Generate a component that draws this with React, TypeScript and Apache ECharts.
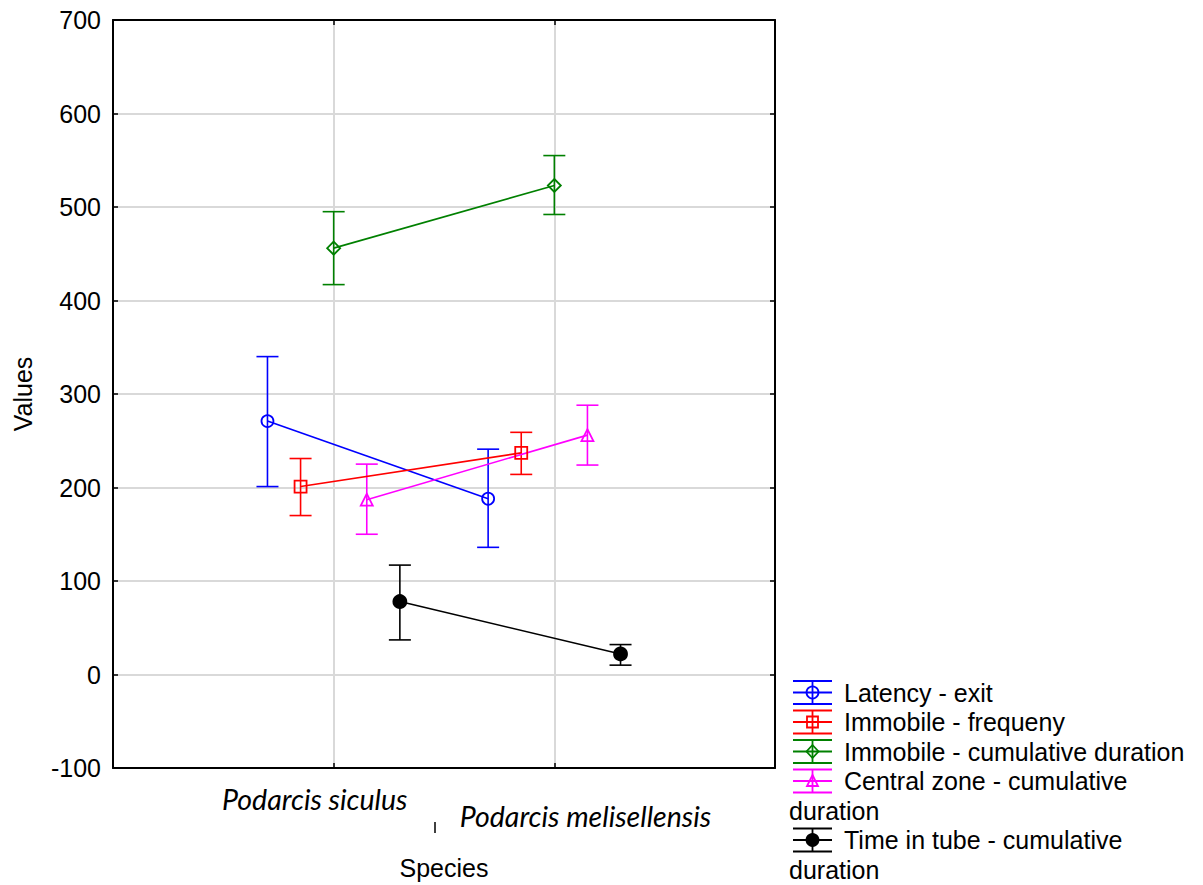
import React, { useEffect, useRef } from "react";
import * as echarts from "echarts";

// ---------- data ----------
const categories = ["Podarcis siculus", "Podarcis melisellensis"];
const seriesNames = [
  "Latency - exit",
  "Immobile - frequeny",
  "Immobile - cumulative duration",
  "Central zone - cumulative duration",
  "Time in tube - cumulative duration",
];
const latencyMean = [271, 188];
const latencyLow = [201, 136];
const latencyHigh = [340, 241];

const immFreqMean = [201, 237];
const immFreqLow = [170, 214];
const immFreqHigh = [231, 259];

const immCumMean = [456, 523];
const immCumLow = [417, 492];
const immCumHigh = [495, 555];

const centralMean = [187, 256];
const centralLow = [150, 224];
const centralHigh = [225, 288];

const tubeMean = [78, 22];
const tubeLow = [37, 10];
const tubeHigh = [117, 32];

const yMin = -100;
const yMax = 700;
const yStep = 100;

// ---------- styling ----------
const colors = ["#0000ff", "#ff0000", "#008000", "#ff00ff", "#000000"];
const symbols = ["circle", "rect", "diamond", "triangle", "circle"];
const symbolSizes = [12, 12, 13, 12, 13];
const filled = [false, false, false, false, true];
const offsets = [-0.3, -0.15, 0, 0.15, 0.3];
const FONT = '"Liberation Sans", Arial, sans-serif';

const means = [latencyMean, immFreqMean, immCumMean, centralMean, tubeMean];
const lows = [latencyLow, immFreqLow, immCumLow, centralLow, tubeLow];
const highs = [latencyHigh, immFreqHigh, immCumHigh, centralHigh, tubeHigh];

function measure(text: string, font: string): number {
  const c = document.createElement("canvas");
  const ctx = c.getContext("2d");
  if (!ctx) return text.length * 12;
  ctx.font = font;
  return ctx.measureText(text).width;
}

function legendMarker(i: number, cx: number, cy: number) {
  const c = colors[i];
  const st = { fill: filled[i] ? c : "none", stroke: c, lineWidth: 1.8 };
  const s = symbols[i];
  if (s === "circle")
    return { type: "circle", shape: { cx, cy, r: 6 }, style: st, z: 101 };
  if (s === "rect")
    return { type: "rect", shape: { x: cx - 5.5, y: cy - 5.5, width: 11, height: 11 }, style: st, z: 101 };
  if (s === "diamond")
    return {
      type: "polygon",
      shape: { points: [[cx, cy - 6.5], [cx + 6, cy], [cx, cy + 6.5], [cx - 6, cy]] },
      style: st,
      z: 101,
    };
  return {
    type: "polygon",
    shape: { points: [[cx, cy - 6], [cx + 5.5, cy + 5], [cx - 5.5, cy + 5]] },
    style: st,
    z: 101,
  };
}

export default function App() {
  const ref = useRef<HTMLDivElement>(null);

  useEffect(() => {
    if (!ref.current) return;
    const chart = echarts.init(ref.current, undefined, { renderer: "svg" });

    const series: any[] = [];
    seriesNames.forEach((name, i) => {
      const c = colors[i];
      series.push({
        type: "custom",
        name: name + " err",
        data: categories.map((_, k) => [k + 1 + offsets[i], lows[i][k], highs[i][k]]),
        encode: { x: 0, y: [1, 2] },
        silent: true,
        z: 3,
        renderItem: (params: any, api: any) => {
          const x = api.value(0);
          const lo = api.coord([x, api.value(1)]);
          const hi = api.coord([x, api.value(2)]);
          const w = 11;
          const st = { stroke: c, lineWidth: 1.6 };
          return {
            type: "group",
            children: [
              { type: "line", shape: { x1: lo[0], y1: lo[1], x2: hi[0], y2: hi[1] }, style: st },
              { type: "line", shape: { x1: lo[0] - w, y1: lo[1], x2: lo[0] + w, y2: lo[1] }, style: st },
              { type: "line", shape: { x1: hi[0] - w, y1: hi[1], x2: hi[0] + w, y2: hi[1] }, style: st },
            ],
          };
        },
      });
      series.push({
        type: "line",
        name,
        data: categories.map((_, k) => [k + 1 + offsets[i], means[i][k]]),
        symbol: symbols[i],
        symbolSize: symbolSizes[i],
        showSymbol: true,
        z: 4,
        lineStyle: { color: c, width: 1.6 },
        itemStyle: {
          color: filled[i] ? c : "rgba(0,0,0,0)",
          borderColor: c,
          borderWidth: 1.8,
        },
      });
    });

    // legend graphic
    const graphics: any[] = [];
    const legendFont = `25px ${FONT}`;
    const textX = 844;
    const iconCx = 812.5;
    const baseY = 692.5;
    const lineH = 29.5;
    let row = 0;
    seriesNames.forEach((name, i) => {
      const cy = baseY + row * lineH;
      const c = colors[i];
      const lst = { stroke: c, lineWidth: 1.8 };
      graphics.push(
        { type: "line", shape: { x1: iconCx - 19.5, y1: cy - 11.5, x2: iconCx + 19.5, y2: cy - 11.5 }, style: lst, z: 100 },
        { type: "line", shape: { x1: iconCx - 19.5, y1: cy, x2: iconCx + 19.5, y2: cy }, style: lst, z: 100 },
        { type: "line", shape: { x1: iconCx - 19.5, y1: cy + 11.5, x2: iconCx + 19.5, y2: cy + 11.5 }, style: lst, z: 100 },
        { type: "line", shape: { x1: iconCx, y1: cy - 11.5, x2: iconCx, y2: cy + 11.5 }, style: lst, z: 100 },
        legendMarker(i, iconCx, cy)
      );
      const maxW = 1203 - textX - 4;
      let first = name;
      let rest = "";
      if (measure(name, legendFont) > maxW) {
        const words = name.split(" ");
        let k = words.length - 1;
        while (k > 0 && measure(words.slice(0, k).join(" "), legendFont) > maxW) k--;
        first = words.slice(0, k).join(" ");
        rest = words.slice(k).join(" ");
      }
      graphics.push({
        type: "text",
        x: textX,
        y: cy,
        style: { text: first, font: legendFont, fill: "#000", textVerticalAlign: "middle", textAlign: "left" },
        z: 100,
      });
      row++;
      if (rest) {
        graphics.push({
          type: "text",
          x: 789,
          y: baseY + row * lineH,
          style: { text: rest, font: legendFont, fill: "#000", textVerticalAlign: "middle", textAlign: "left" },
          z: 100,
        });
        row++;
      }
    });

    // category labels (italic)
    const catFont = 'italic 28.5px Lato, "Open Sans", sans-serif';
    const catPos = [
      [314.7, 799],
      [585.4, 816],
    ];
    categories.forEach((cat, k) => {
      graphics.push({
        type: "text",
        x: catPos[k][0],
        y: catPos[k][1],
        style: { text: cat, font: catFont, fill: "#000", textAlign: "center", textVerticalAlign: "middle" },
        z: 100,
      });
    });
    graphics.push({
      type: "line",
      shape: { x1: 435, y1: 822, x2: 435, y2: 833 },
      style: { stroke: "#000", lineWidth: 1.5 },
      z: 100,
    });

    const axisLineStyle = { color: "#000", width: 2 };
    const splitLineStyle = { color: "#d9d9d9", width: 2 };

    chart.setOption({
      animation: false,
      backgroundColor: "#fff",
      textStyle: { fontFamily: FONT },
      grid: { left: 113, right: 428, top: 20, bottom: 117, containLabel: false },
      xAxis: [
        {
          type: "value",
          min: 0,
          max: 3,
          interval: 1,
          position: "bottom",
          name: "Species",
          nameLocation: "middle",
          nameGap: 87,
          nameTextStyle: { fontSize: 25, color: "#000", fontFamily: FONT },
          axisLine: { show: true, onZero: false, lineStyle: axisLineStyle },
          axisTick: { show: true, inside: true, length: 5, lineStyle: { color: "#000", width: 1.5 } },
          axisLabel: { show: false },
          splitLine: { show: true, lineStyle: splitLineStyle },
        },
        {
          type: "value",
          min: 0,
          max: 3,
          interval: 1,
          position: "top",
          axisLine: { show: true, onZero: false, lineStyle: axisLineStyle },
          axisTick: { show: true, inside: true, length: 5, lineStyle: { color: "#000", width: 1.5 } },
          axisLabel: { show: false },
          splitLine: { show: false },
        },
      ],
      yAxis: [
        {
          type: "value",
          min: yMin,
          max: yMax,
          interval: yStep,
          position: "left",
          name: "Values",
          nameLocation: "middle",
          nameGap: 78,
          nameTextStyle: { fontSize: 25, color: "#000", fontFamily: FONT },
          axisLine: { show: true, onZero: false, lineStyle: axisLineStyle },
          axisTick: { show: true, inside: true, length: 5, lineStyle: { color: "#000", width: 1.5 } },
          axisLabel: { show: true, fontSize: 25, color: "#000", fontFamily: FONT, margin: 12 },
          splitLine: { show: true, lineStyle: splitLineStyle },
        },
        {
          type: "value",
          min: yMin,
          max: yMax,
          interval: yStep,
          position: "right",
          axisLine: { show: true, onZero: false, lineStyle: axisLineStyle },
          axisTick: { show: true, inside: true, length: 5, lineStyle: { color: "#000", width: 1.5 } },
          axisLabel: { show: false },
          splitLine: { show: false },
        },
      ],
      series,
      graphic: graphics,
    });

    return () => chart.dispose();
  }, []);

  return (
    <div
      ref={ref}
      style={{ position: "absolute", left: 0, top: 0, width: 1203, height: 885, background: "#fff" }}
    />
  );
}
